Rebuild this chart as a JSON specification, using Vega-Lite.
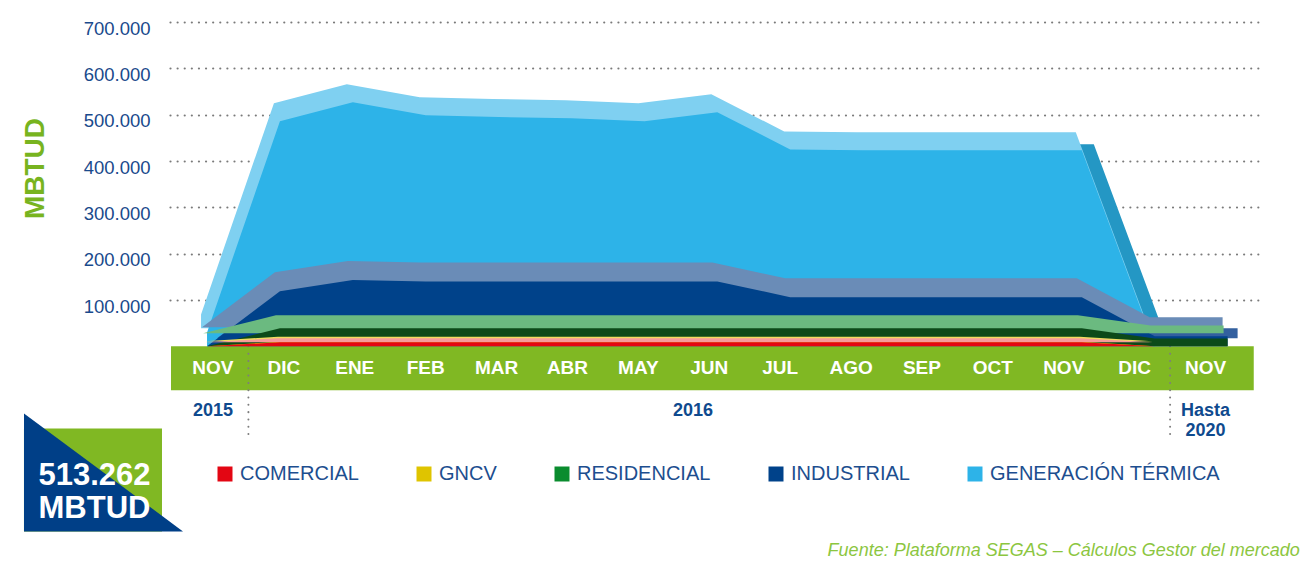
{
  "$schema": "https://vega.github.io/schema/vega-lite/v6.json",
  "width": 1088,
  "height": 417,
  "autosize": "none",
  "padding": {"left": 170, "top": 22, "right": 45, "bottom": 123},
  "background": "white",
  "config": {
    "view": {"stroke": null},
    "font": "Liberation Sans",
    "axisY": {
      "grid": true,
      "gridColor": "#7a7a7a",
      "gridDash": [0.01, 7.1],
      "gridWidth": 2.2,
      "gridCap": "round",
      "domain": false,
      "ticks": false,
      "labelPadding": 20,
      "labelOffset": 6,
      "labelFontSize": 18.5,
      "labelColor": "#1a4a8c",
      "labelFont": "Liberation Sans",
      "titleColor": "#78b41f",
      "titleFontSize": 28,
      "titleFontWeight": "bold",
      "titleFont": "Liberation Sans",
      "titleAngle": 270,
      "titleAlign": "center",
      "titleBaseline": "middle",
      "titleX": -135,
      "titleY": 146
    }
  },
  "datasets": {
    "demanda": [
      {"idx": 0, "mes": "NOV", "gen": 30000, "ind": 0, "res": 0, "gncv": 0, "com": 0},
      {"idx": 1, "mes": "DIC", "gen": 486000, "ind": 119000, "res": 39000, "gncv": 10000, "com": 9000},
      {"idx": 2, "mes": "ENE", "gen": 527000, "ind": 143000, "res": 39000, "gncv": 10000, "com": 9000},
      {"idx": 3, "mes": "FEB", "gen": 499000, "ind": 140000, "res": 39000, "gncv": 10000, "com": 9000},
      {"idx": 4, "mes": "MAR", "gen": 495000, "ind": 140000, "res": 39000, "gncv": 10000, "com": 9000},
      {"idx": 5, "mes": "ABR", "gen": 492000, "ind": 140000, "res": 39000, "gncv": 10000, "com": 9000},
      {"idx": 6, "mes": "MAY", "gen": 486000, "ind": 140000, "res": 39000, "gncv": 10000, "com": 9000},
      {"idx": 7, "mes": "JUN", "gen": 505000, "ind": 140000, "res": 39000, "gncv": 10000, "com": 9000},
      {"idx": 8, "mes": "JUL", "gen": 425000, "ind": 106000, "res": 39000, "gncv": 10000, "com": 9000},
      {"idx": 9, "mes": "AGO", "gen": 423000, "ind": 106000, "res": 39000, "gncv": 10000, "com": 9000},
      {"idx": 10, "mes": "SEP", "gen": 423000, "ind": 106000, "res": 39000, "gncv": 10000, "com": 9000},
      {"idx": 11, "mes": "OCT", "gen": 423000, "ind": 106000, "res": 39000, "gncv": 10000, "com": 9000},
      {"idx": 12, "mes": "NOV", "gen": 423000, "ind": 106000, "res": 39000, "gncv": 10000, "com": 9000},
      {"idx": 13, "mes": "DIC", "gen": 0, "ind": 22000, "res": 17000, "gncv": 0, "com": 0},
      {"idx": 14, "mes": "NOV", "gen": 0, "ind": 22000, "res": 17000, "gncv": 0, "com": 0}
    ],
    "anios": [
      {"anio": "2015", "idx": 0},
      {"anio": "2016", "idx": 6.77},
      {"anio": "Hasta 2020", "idx": 14}
    ],
    "separadores": [
      {"idx": 0.5},
      {"idx": 13.5}
    ]
  },
  "layer": [
    {
      "layer": [
        {
          "data": {"values": [{}]},
          "mark": {"type": "rect", "color": "#80b823"},
          "encoding": {
            "x": {"datum": -0.592, "type": "quantitative", "scale": {"domain": [-0.606, 14.74], "nice": false, "zero": false}, "axis": null},
            "x2": {"datum": 14.68},
            "y": {
              "datum": 0, "type": "quantitative",
              "scale": {"domain": [-200000, 700000], "nice": false, "zero": false},
              "title": "MBTUD",
              "axis": {
                "values": [100000, 200000, 300000, 400000, 500000, 600000, 700000],
                "labelExpr": "replace(format(datum.value, ',d'), ',', '.')",
                "title": "MBTUD"
              }
            },
            "y2": {"datum": -95000}
          }
        },
        {
          "data": {"name": "separadores"},
          "mark": {"type": "rule", "color": "#7d7d7d", "strokeWidth": 2, "strokeDash": [0.01, 7.3], "strokeCap": "round"},
          "encoding": {
            "x": {"field": "idx", "type": "quantitative", "axis": null},
            "y": {"datum": 0, "type": "quantitative", "title": "MBTUD"},
            "y2": {"datum": -197000}
          }
        },
        {
          "data": {"name": "demanda"},
          "mark": {"type": "text", "color": "white", "fontWeight": "bold", "fontSize": 19, "baseline": "middle", "align": "center"},
          "encoding": {
            "x": {"field": "idx", "type": "quantitative", "axis": null},
            "y": {"datum": -47500, "type": "quantitative", "title": "MBTUD"},
            "text": {"field": "mes"}
          }
        },
        {
          "data": {"name": "anios"},
          "mark": {"type": "text", "color": "#0f4a8e", "fontWeight": "bold", "fontSize": 18, "baseline": "middle", "align": "center", "lineBreak": " ", "lineHeight": 20},
          "encoding": {
            "x": {"field": "idx", "type": "quantitative", "axis": null},
            "y": {"datum": -140000, "type": "quantitative", "title": "MBTUD"},
            "text": {"field": "anio"}
          }
        },
        {
          "data": {"values": [{}]},
          "mark": {"type": "rect", "color": "#80b823"},
          "encoding": {
            "x": {"datum": -2.666, "type": "quantitative", "axis": null},
            "x2": {"datum": -0.719},
            "y": {"datum": -177100, "type": "quantitative", "title": "MBTUD"},
            "y2": {"datum": -399600}
          }
        },
        {
          "data": {"values": [{}]},
          "mark": {"type": "point", "filled": true, "opacity": 1, "color": "#003f87", "strokeWidth": 0, "shape": "M-1,-0.742L-1,0.742L1,0.742Z", "size": 25281},
          "encoding": {
            "x": {"datum": -1.544, "type": "quantitative", "axis": null},
            "y": {"datum": -272100, "type": "quantitative", "title": "MBTUD"}
          }
        },
        {
          "data": {"values": [{}]},
          "mark": {"type": "text", "color": "white", "fontWeight": "bold", "fontSize": 31, "baseline": "middle", "align": "center", "lineBreak": " ", "lineHeight": 33},
          "encoding": {
            "x": {"datum": -1.671, "type": "quantitative", "axis": null},
            "y": {"datum": -280600, "type": "quantitative", "title": "MBTUD"},
            "text": {"value": "513.262 MBTUD"}
          }
        },
        {
          "data": {"values": [{}]},
          "mark": {"type": "text", "color": "#8cc63f", "fontStyle": "italic", "fontSize": 18, "baseline": "middle", "align": "right"},
          "encoding": {
            "x": {"datum": 15.33, "type": "quantitative", "axis": null},
            "y": {"datum": -442800, "type": "quantitative", "title": "MBTUD"},
            "text": {"value": "Fuente: Plataforma SEGAS – Cálculos Gestor del mercado"}
          }
        }
      ]
    },
    {
      "data": {"name": "demanda"},
      "encoding": {
        "x": {"field": "idx", "type": "quantitative", "scale": {"domain": [-0.508, 14.417], "nice": false, "zero": false}, "axis": null}
      },
      "layer": [
        {
          "mark": {"type": "area", "color": "#2497c4", "opacity": 1, "xOffset": 12, "yOffset": -6, "y2Offset": -6},
          "encoding": {"y": {"field": "gen", "type": "quantitative", "title": "MBTUD"}}
        },
        {
          "mark": {"type": "area", "color": "#7fd0f1", "opacity": 1, "xOffset": -6, "yOffset": -18, "y2Offset": -18},
          "encoding": {"y": {"field": "gen", "type": "quantitative", "title": "MBTUD"}}
        },
        {
          "mark": {"type": "area", "opacity": 1},
          "encoding": {
            "y": {"field": "gen", "type": "quantitative", "title": "MBTUD"},
            "color": {
              "datum": "GENERACIÓN TÉRMICA",
              "scale": {
                "domain": ["COMERCIAL", "GNCV", "RESIDENCIAL", "INDUSTRIAL", "GENERACIÓN TÉRMICA"],
                "range": ["#e30613", "#dfc400", "#0a8c2e", "#00428a", "#2db3e8"]
              },
              "legend": {
                "orient": "none",
                "legendX": 45,
                "legendY": 442,
                "direction": "horizontal",
                "columns": 5,
                "columnPadding": 55,
                "symbolType": "square",
                "symbolSize": 225,
                "symbolStrokeWidth": 0,
                "symbolOpacity": 1,
                "labelFontSize": 20,
                "labelColor": "#1d4e8f",
                "labelFont": "Liberation Sans",
                "labelOffset": 5,
                "labelLimit": 400,
                "title": null
              }
            }
          }
        },
        {
          "mark": {"type": "area", "color": "#33609f", "opacity": 1, "xOffset": 10, "yOffset": -8, "y2Offset": -8},
          "encoding": {"y": {"field": "ind", "type": "quantitative", "title": "MBTUD"}}
        },
        {
          "mark": {"type": "area", "color": "#6a8cb7", "opacity": 1, "xOffset": -5, "yOffset": -19, "y2Offset": -19},
          "encoding": {"y": {"field": "ind", "type": "quantitative", "title": "MBTUD"}}
        },
        {
          "mark": {"type": "area", "opacity": 1},
          "encoding": {
            "y": {"field": "ind", "type": "quantitative", "title": "MBTUD"},
            "color": {"datum": "INDUSTRIAL"}
          }
        },
        {
          "mark": {"type": "area", "color": "#6bba80", "opacity": 1, "xOffset": -4, "yOffset": -13, "y2Offset": -13},
          "encoding": {"y": {"field": "res", "type": "quantitative", "title": "MBTUD"}}
        },
        {
          "mark": {"type": "area", "color": "#0c4a19", "opacity": 1},
          "encoding": {"y": {"field": "res", "type": "quantitative", "title": "MBTUD"}}
        },
        {
          "mark": {"type": "area", "color": "#f0dc60", "opacity": 1, "xOffset": -2, "yOffset": -5, "y2Offset": -5},
          "encoding": {"y": {"field": "gncv", "type": "quantitative", "title": "MBTUD"}}
        },
        {
          "mark": {"type": "area", "opacity": 1},
          "encoding": {
            "y": {"field": "gncv", "type": "quantitative", "title": "MBTUD"},
            "color": {"datum": "GNCV"}
          }
        },
        {
          "mark": {"type": "area", "color": "#f59b9b", "opacity": 1, "xOffset": -2, "yOffset": -4, "y2Offset": -4},
          "encoding": {"y": {"field": "com", "type": "quantitative", "title": "MBTUD"}}
        },
        {
          "mark": {"type": "area", "opacity": 1},
          "encoding": {
            "y": {"field": "com", "type": "quantitative", "title": "MBTUD"},
            "color": {"datum": "COMERCIAL"}
          }
        }
      ]
    }
  ],
  "resolve": {"scale": {"x": "independent"}}
}
